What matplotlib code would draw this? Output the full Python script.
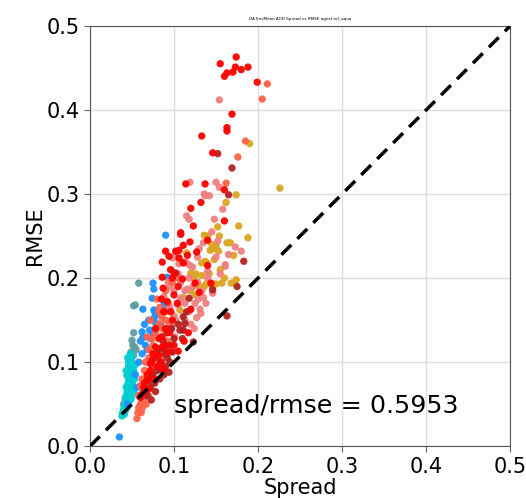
import matplotlib
matplotlib.use("Agg")
import matplotlib.pyplot as plt

title = "DA EnsMean AOD Spread vs RMSE agnst nrl_aqua"
ratio_text = "spread/rmse = 0.5953"
ticks = [0.0, 0.1, 0.2, 0.3, 0.4, 0.5]

red_spread = [0.174, 0.155, 0.173, 0.188, 0.180, 0.170, 0.163, 0.160, 0.199, 0.169, 0.163, 0.163,
              0.133, 0.146, 0.114, 0.137, 0.160, 0.120, 0.160, 0.108, 0.111, 0.119, 0.090, 0.102,
              0.127, 0.106, 0.086, 0.111, 0.096, 0.086, 0.110, 0.125, 0.100, 0.144, 0.087, 0.120,
              0.092, 0.088, 0.098, 0.095, 0.082, 0.086, 0.075, 0.072, 0.080, 0.068, 0.065, 0.070,
              0.062, 0.100, 0.105, 0.112, 0.090, 0.078, 0.104, 0.117, 0.130, 0.140, 0.108, 0.106,
              0.060, 0.064, 0.068, 0.072, 0.074, 0.078, 0.082, 0.085, 0.090, 0.094, 0.096, 0.085,
              0.100, 0.105, 0.098, 0.094, 0.116, 0.123, 0.132, 0.140, 0.076, 0.084, 0.088]
red_rmse = [0.463, 0.455, 0.451, 0.451, 0.448, 0.445, 0.444, 0.440, 0.433, 0.395, 0.379, 0.375,
            0.369, 0.349, 0.312, 0.312, 0.305, 0.283, 0.268, 0.254, 0.239, 0.243, 0.232, 0.232,
            0.231, 0.224, 0.219, 0.218, 0.210, 0.201, 0.199, 0.194, 0.206, 0.194, 0.188, 0.163,
            0.172, 0.160, 0.150, 0.135, 0.128, 0.118, 0.110, 0.098, 0.095, 0.085, 0.075, 0.068,
            0.062, 0.120, 0.113, 0.125, 0.140, 0.140, 0.170, 0.135, 0.183, 0.215, 0.252, 0.233,
            0.058, 0.070, 0.078, 0.090, 0.102, 0.118, 0.108, 0.130, 0.120, 0.112, 0.160, 0.175,
            0.180, 0.190, 0.200, 0.226, 0.227, 0.262, 0.290, 0.245, 0.080, 0.100, 0.092]

coral_spread = [0.154, 0.119, 0.150, 0.154, 0.136, 0.142, 0.115, 0.118, 0.135, 0.152, 0.173, 0.180,
                0.098, 0.119, 0.122, 0.161, 0.140, 0.106, 0.112, 0.115, 0.161, 0.113, 0.116, 0.146,
                0.129, 0.135, 0.125, 0.108, 0.113, 0.105, 0.131, 0.132, 0.100, 0.102, 0.127, 0.097,
                0.101, 0.088, 0.095, 0.108, 0.128, 0.140, 0.155, 0.150, 0.128, 0.165, 0.095, 0.120,
                0.110, 0.137, 0.100, 0.105, 0.118, 0.123, 0.133, 0.138, 0.118, 0.113, 0.124, 0.090,
                0.086, 0.093, 0.102, 0.130, 0.145, 0.148, 0.158]
coral_rmse = [0.412, 0.314, 0.314, 0.308, 0.300, 0.298, 0.274, 0.270, 0.242, 0.244, 0.237, 0.232,
              0.224, 0.215, 0.213, 0.214, 0.208, 0.217, 0.219, 0.218, 0.216, 0.185, 0.187, 0.182,
              0.175, 0.177, 0.170, 0.176, 0.170, 0.168, 0.163, 0.158, 0.155, 0.150, 0.153, 0.142,
              0.130, 0.178, 0.190, 0.195, 0.195, 0.200, 0.205, 0.225, 0.225, 0.228, 0.165, 0.145,
              0.140, 0.298, 0.185, 0.205, 0.200, 0.190, 0.185, 0.170, 0.160, 0.150, 0.140, 0.135,
              0.150, 0.195, 0.225, 0.235, 0.255, 0.270, 0.282]

tomato_spread = [0.211, 0.205, 0.185, 0.176, 0.162, 0.080, 0.083, 0.085, 0.090, 0.082, 0.078, 0.087,
                 0.092, 0.075, 0.080, 0.088, 0.070, 0.065, 0.072, 0.062, 0.060, 0.066, 0.058, 0.064,
                 0.060, 0.058, 0.056, 0.057, 0.062, 0.090, 0.098, 0.105, 0.093, 0.066, 0.070, 0.074,
                 0.068, 0.072, 0.082, 0.086, 0.078, 0.063, 0.070, 0.067, 0.061, 0.090, 0.095]
tomato_rmse = [0.431, 0.413, 0.363, 0.344, 0.313, 0.175, 0.165, 0.155, 0.150, 0.145, 0.135, 0.130,
               0.125, 0.120, 0.112, 0.108, 0.105, 0.090, 0.085, 0.080, 0.072, 0.065, 0.060, 0.055,
               0.050, 0.046, 0.033, 0.040, 0.045, 0.185, 0.195, 0.200, 0.170, 0.100, 0.115, 0.128,
               0.130, 0.150, 0.160, 0.140, 0.095, 0.068, 0.060, 0.050, 0.040, 0.160, 0.145]

brick_spread = [0.152, 0.169, 0.165, 0.183, 0.175, 0.146, 0.118, 0.163, 0.102, 0.111, 0.113, 0.111,
                0.107, 0.123, 0.095, 0.098, 0.092, 0.085, 0.090, 0.080, 0.075, 0.083, 0.077, 0.072,
                0.068, 0.073, 0.078, 0.088, 0.094, 0.100, 0.078, 0.082, 0.087, 0.092, 0.097, 0.090,
                0.084, 0.088, 0.070, 0.065, 0.105, 0.115, 0.110, 0.095]
brick_rmse = [0.348, 0.331, 0.299, 0.220, 0.190, 0.186, 0.176, 0.155, 0.206, 0.154, 0.146, 0.138,
              0.138, 0.124, 0.120, 0.112, 0.105, 0.100, 0.095, 0.090, 0.085, 0.080, 0.075, 0.070,
              0.060, 0.055, 0.065, 0.115, 0.088, 0.128, 0.105, 0.115, 0.125, 0.135, 0.140, 0.110,
              0.092, 0.085, 0.078, 0.065, 0.145, 0.160, 0.128, 0.100]

gold_spread = [0.190, 0.174, 0.226, 0.162, 0.152, 0.177, 0.136, 0.140, 0.154, 0.188, 0.145, 0.147,
               0.150, 0.163, 0.167, 0.115, 0.143, 0.153, 0.171, 0.137, 0.148, 0.139, 0.133, 0.124,
               0.138, 0.143, 0.150, 0.168, 0.174, 0.157, 0.120, 0.126, 0.133, 0.130, 0.136, 0.146,
               0.111, 0.107, 0.120, 0.125, 0.155, 0.160, 0.142]
gold_rmse = [0.360, 0.299, 0.307, 0.290, 0.261, 0.262, 0.251, 0.250, 0.250, 0.248, 0.240, 0.235,
             0.238, 0.242, 0.242, 0.230, 0.233, 0.232, 0.227, 0.220, 0.222, 0.218, 0.218, 0.200,
             0.193, 0.193, 0.193, 0.194, 0.198, 0.194, 0.206, 0.205, 0.203, 0.190, 0.190, 0.190,
             0.177, 0.162, 0.185, 0.180, 0.210, 0.200, 0.205]

blue_spread = [0.035, 0.090, 0.075, 0.092, 0.076, 0.074, 0.063, 0.077, 0.077, 0.076, 0.081, 0.077,
               0.080, 0.071, 0.062, 0.063, 0.060, 0.066, 0.072, 0.062, 0.068, 0.058, 0.075, 0.088,
               0.084, 0.054, 0.056, 0.045, 0.070, 0.065]
blue_rmse = [0.011, 0.251, 0.194, 0.201, 0.187, 0.176, 0.163, 0.160, 0.154, 0.162, 0.158, 0.148,
             0.142, 0.138, 0.136, 0.129, 0.125, 0.120, 0.128, 0.110, 0.115, 0.100, 0.135, 0.168,
             0.145, 0.085, 0.070, 0.050, 0.150, 0.145]

cadet_spread = [0.058, 0.052, 0.054, 0.052, 0.050, 0.051, 0.053, 0.049, 0.052, 0.055, 0.050, 0.048,
                0.050, 0.045, 0.046, 0.044, 0.042, 0.040, 0.047]
cadet_rmse = [0.194, 0.167, 0.168, 0.135, 0.126, 0.120, 0.118, 0.112, 0.108, 0.115, 0.100, 0.095,
              0.090, 0.085, 0.070, 0.060, 0.055, 0.050, 0.078]

turq_spread = [0.045, 0.048, 0.050, 0.046, 0.049, 0.047, 0.050, 0.044, 0.048, 0.046, 0.051, 0.045,
               0.048, 0.043, 0.047, 0.050, 0.044, 0.046, 0.049, 0.042, 0.045, 0.047, 0.043, 0.041,
               0.044, 0.040, 0.042, 0.039, 0.041, 0.038, 0.052, 0.053, 0.051, 0.052, 0.049, 0.054,
               0.046, 0.043, 0.048, 0.050]
turq_rmse = [0.105, 0.100, 0.098, 0.095, 0.092, 0.088, 0.086, 0.084, 0.082, 0.078, 0.078, 0.074,
             0.072, 0.070, 0.068, 0.066, 0.064, 0.062, 0.060, 0.058, 0.056, 0.054, 0.052, 0.048,
             0.046, 0.044, 0.042, 0.040, 0.038, 0.036, 0.090, 0.080, 0.072, 0.065, 0.056, 0.097,
             0.100, 0.090, 0.110, 0.106]

groups = [
    (cadet_spread, cadet_rmse, "cadetblue"),
    (turq_spread, turq_rmse, "darkturquoise"),
    (blue_spread, blue_rmse, "dodgerblue"),
    (gold_spread, gold_rmse, "goldenrod"),
    (coral_spread, coral_rmse, "lightcoral"),
    (tomato_spread, tomato_rmse, "tomato"),
    (brick_spread, brick_rmse, "firebrick"),
    (red_spread, red_rmse, "red"),
]

fig = plt.figure(figsize=(5.26, 4.98), dpi=100)
ax = fig.add_axes([0.171, 0.104, 0.799, 0.844])

for xs, ys, c in groups:
    ax.scatter(xs, ys, s=28, c=c, edgecolors="none", alpha=0.95, zorder=3)

ax.plot([0, 0.5], [0, 0.5], color="black", linestyle="--", linewidth=2.5, dashes=(4, 2.5), zorder=4)

ax.set_xlim(0, 0.5)
ax.set_ylim(0, 0.5)
ax.set_xticks(ticks)
ax.set_yticks(ticks)
ax.tick_params(labelsize=15, color="#666666", length=4)
ax.grid(True, color="#dddddd", linewidth=1, zorder=0)
for sp in ax.spines.values():
    sp.set_color("#555555")
ax.set_xlabel("Spread", fontsize=15, labelpad=1)
ax.set_ylabel("RMSE", fontsize=15, labelpad=1)
ax.set_title(title, fontsize=3, pad=4)
ax.text(0.1, 0.04, ratio_text, fontsize=18.3)

fig.savefig("out.png", dpi=100)
